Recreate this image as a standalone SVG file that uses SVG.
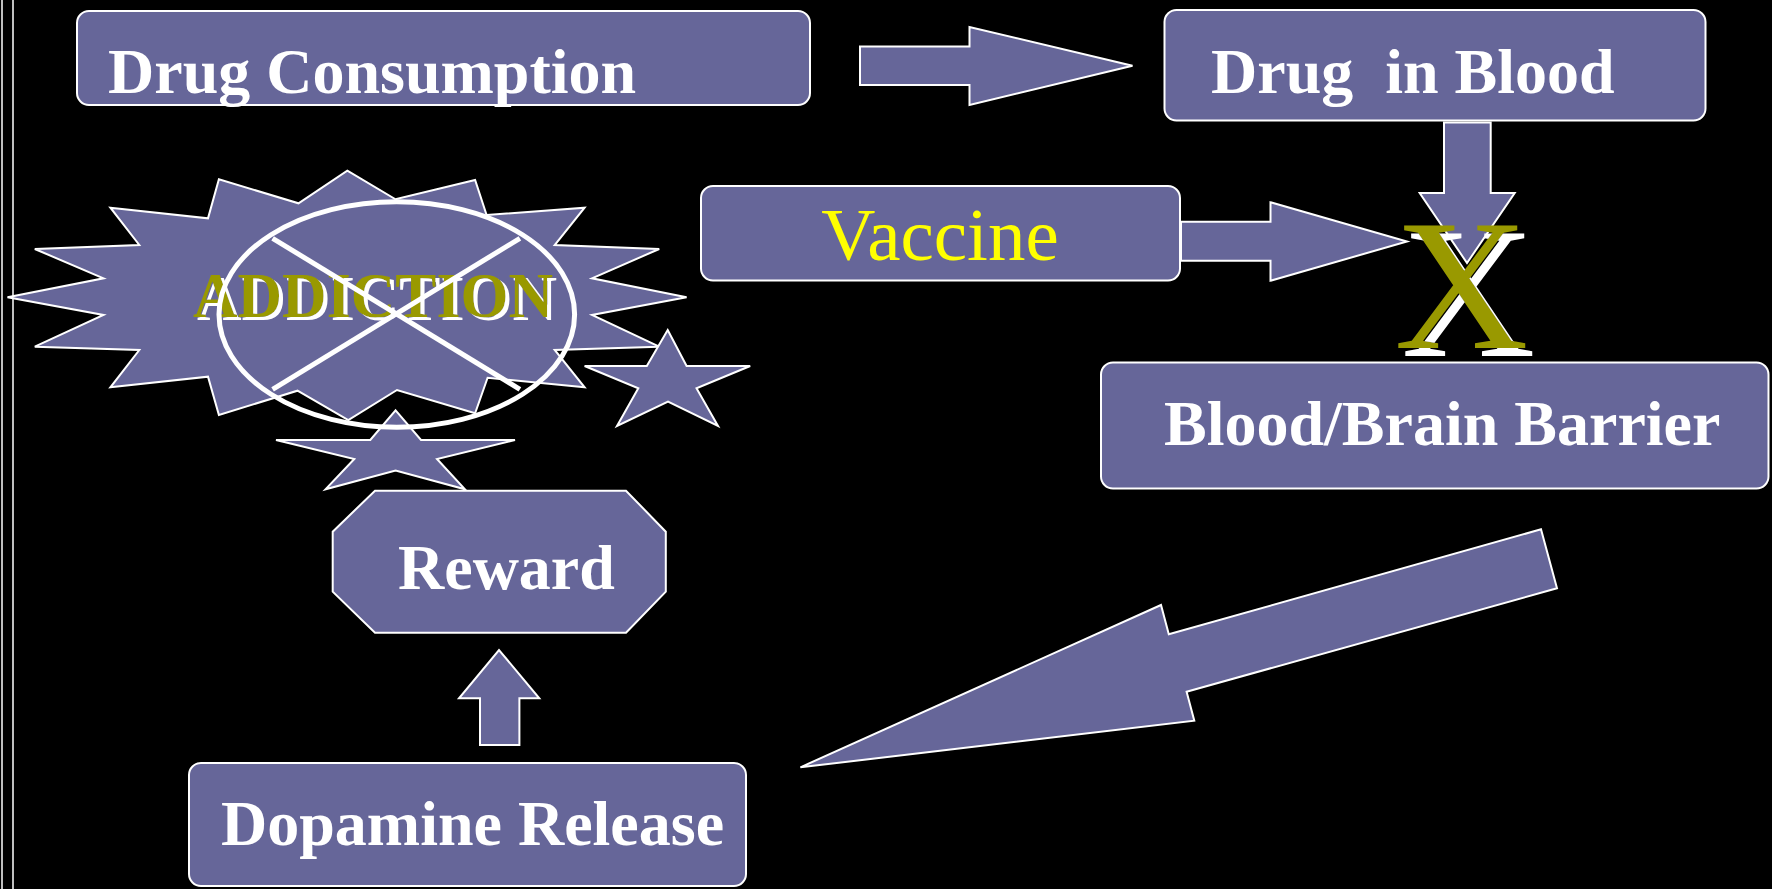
<svg xmlns="http://www.w3.org/2000/svg" width="1772" height="889" viewBox="0 0 1772 889">
<style>
.shape{fill:#666699;stroke:#ffffff;stroke-width:2;stroke-linejoin:miter}
.lbl{font-family:"Liberation Serif","Times New Roman",serif;font-weight:bold;font-size:64px;fill:#ffffff}
.ring{fill:none;stroke:#ffffff;stroke-width:5}
</style>
<defs>
  <filter id="shadowA" x="-10%" y="-20%" width="130%" height="150%">
    <feOffset in="SourceAlpha" dx="4" dy="3" result="o"/>
    <feFlood flood-color="#ffffff"/>
    <feComposite in2="o" operator="in" result="s"/>
    <feMerge><feMergeNode in="s"/><feMergeNode in="SourceGraphic"/></feMerge>
  </filter>
  <filter id="shadowX" x="-20%" y="-20%" width="150%" height="150%">
    <feOffset in="SourceAlpha" dx="7" dy="8" result="o"/>
    <feFlood flood-color="#ffffff"/>
    <feComposite in2="o" operator="in" result="s"/>
    <feMerge><feMergeNode in="s"/><feMergeNode in="SourceGraphic"/></feMerge>
  </filter>
</defs>
<rect x="0" y="0" width="1772" height="889" fill="#000000"/>
<line x1="2" y1="0" x2="2" y2="889" stroke="#ffffff" stroke-width="1.5"/>
<line x1="13" y1="0" x2="13" y2="889" stroke="#ffffff" stroke-width="1.5"/>

<g id="connectors">
  <polygon class="shape" points="860,46.5 969.5,46.5 969.5,27 1132.5,65.7 969.5,105 969.5,85 860,85"/>
  <polygon class="shape" points="1181,221.7 1270.5,221.7 1270.5,202.3 1407,241.5 1270.5,280.7 1270.5,260.7 1181,260.7"/>
  <polygon class="shape" points="1444,122.5 1490.7,122.5 1490.7,193 1514.7,193 1467,263 1419.7,193 1444,193"/>
  <polygon class="shape" points="480,745 519.4,745 519.4,698.3 539.3,698.3 499,650 459,698.3 480,698.3"/>
  <polygon class="shape" points="1541,529.3 1557,588.3 1186.6,691.7 1194.3,720.7 800.4,767.3 1161,605 1168.8,634.3"/>
</g>

<g id="drug-consumption">
  <rect class="shape" x="77" y="11" width="733" height="94" rx="12"/>
  <text class="lbl" x="108" y="93">Drug Consumption</text>
</g>

<g id="drug-in-blood">
  <rect class="shape" x="1164.5" y="10" width="541" height="110.5" rx="12"/>
  <text class="lbl" x="1211" y="93" xml:space="preserve">Drug  in Blood</text>
</g>

<g id="vaccine">
  <rect class="shape" x="701" y="186" width="479" height="94.5" rx="12"/>
  <text x="940" y="260" text-anchor="middle" font-family="Liberation Serif, Times New Roman, serif" font-size="75" fill="#ffff00">Vaccine</text>
</g>

<g id="block-x">
  <text x="1461.4" y="348" text-anchor="middle" font-family="Liberation Serif, Times New Roman, serif" font-size="186" fill="#999900" filter="url(#shadowX)">X</text>
</g>

<g id="blood-brain-barrier">
  <rect class="shape" x="1101" y="362.5" width="667.5" height="126" rx="12"/>
  <text class="lbl" x="1164" y="445">Blood/Brain Barrier</text>
</g>

<g id="addiction">
  <polygon class="shape" points="347.3,170.7 395.5,199.3 475.1,180 486.6,215 584.6,207.7 554.7,245 659.2,249 592,278.3 686.6,297.3 592,315 659.2,346.7 554.7,350 584.6,387.3 487.6,377.7 475.1,413.3 397,390 348.3,420 297.5,390.7 218.9,415 208,376.7 110.4,387.3 139.3,350 34.8,346.7 103.5,315 7.5,297.3 103.5,278.3 34.8,249 139.3,245 110.4,207.7 208,218.3 218.9,179.3 298.5,203.3"/>
  <text x="193" y="317" textLength="360" lengthAdjust="spacingAndGlyphs" font-family="Liberation Serif, Times New Roman, serif" font-weight="bold" font-size="63" fill="#999900" filter="url(#shadowA)">ADDICTION</text>
</g>

<g id="star-right">
  <polygon class="shape" points="667.7,330 686.6,366 750.2,366 696.5,388.3 718,426 668,401.7 617,426 638.3,388.3 584.6,366 646.8,366"/>
</g>

<g id="star-bottom">
  <polygon class="shape" points="395.6,410.3 421,440 515,440 437,459 465,489.3 395.6,470.5 325.5,489.3 354.3,459 276,440 370.3,440"/>
</g>

<g id="no-sign">
  <ellipse class="ring" cx="396.8" cy="314.5" rx="177.8" ry="112.8"/>
  <line x1="272.6" y1="238.3" x2="519.9" y2="389.3" stroke="#ffffff" stroke-width="5"/>
  <line x1="519.9" y1="238.3" x2="272.6" y2="389.3" stroke="#ffffff" stroke-width="5"/>
</g>

<g id="reward">
  <polygon class="shape" points="375,490.7 626,490.7 665.8,531.7 665.8,591.7 626,632.7 375,632.7 332.7,591.7 332.7,531.7"/>
  <text class="lbl" x="398" y="589">Reward</text>
</g>

<g id="dopamine-release">
  <rect class="shape" x="189" y="763" width="557" height="123" rx="12"/>
  <text class="lbl" x="221" y="845">Dopamine Release</text>
</g>
</svg>
